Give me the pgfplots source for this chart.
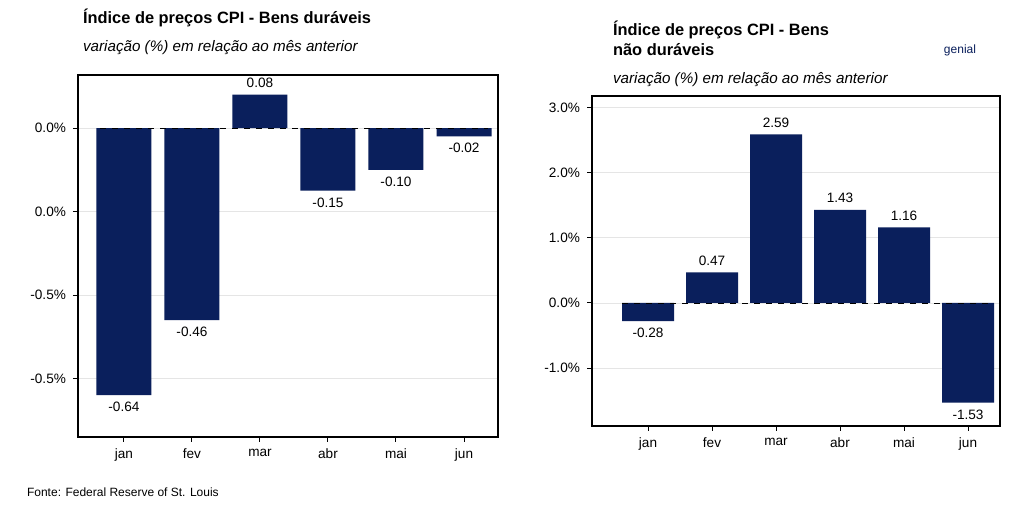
\documentclass[border=0pt]{standalone}
\usepackage{pgfplots}
\pgfplotsset{compat=1.18}
\usepackage{fontspec}
\setmainfont{Liberation Sans}
\definecolor{navy}{HTML}{0A1F5C}
\begin{document}
\begin{tikzpicture}[x=1pt,y=1pt]
\fill[white] (0pt,0pt) rectangle (512pt,256pt);
\pgfplotsset{
 mystyle/.style={scale only axis, axis line style={line width=0.8pt},
  ymajorgrids, grid style={gray!20},
  xtick={0,...,5}, xticklabels={jan,fev,mar,abr,mai,jun},
  tick style={black,line width=0.5pt}, tick align=outside, major tick length=2.5pt,
  xtick pos=bottom, ytick pos=left,
  tick label style={font=\fontsize{6.8}{8}\selectfont},
  /pgf/number format/assume math mode=true,
  every node near coord/.style={font=\fontsize{6.8}{8}\selectfont, black},
  /pgf/number format/.cd, fixed, fixed zerofill, precision=2}}
\begin{axis}[mystyle, at={(39pt,37.5pt)}, anchor=south west, width=210pt, height=181pt,
  xmin=-0.676, xmax=5.5, ymin=-0.74, ymax=0.127,
  ytick={0,-0.2,-0.4,-0.6}, yticklabels={0.0\%,0.0\%,-0.5\%,-0.5\%}]
\addplot[ybar, bar width=27.5pt, fill=navy, draw=none, nodes near coords, nodes near coords align={vertical}] coordinates {(0,-0.64)(1,-0.46)(2,0.08)(3,-0.15)(4,-0.10)(5,-0.02)};
\addplot[dashed, black, thin] coordinates {(-0.35,0)(5.35,0)};
\end{axis}
\begin{axis}[mystyle, at={(296pt,43pt)}, anchor=south west, width=204pt, height=165pt,
  xmin=-0.875, xmax=5.5, ymin=-1.89, ymax=3.18,
  ytick={-1,0,1,2,3}, yticklabels={-1.0\%,0.0\%,1.0\%,2.0\%,3.0\%}]
\addplot[ybar, bar width=26pt, fill=navy, draw=none, nodes near coords, nodes near coords align={vertical}] coordinates {(0,-0.28)(1,0.47)(2,2.59)(3,1.43)(4,1.16)(5,-1.53)};
\addplot[dashed, black, thin] coordinates {(-0.4,0)(5.4,0)};
\end{axis}
\node[anchor=west,font=\bfseries\fontsize{8.2}{9}\selectfont] at (38pt,247pt) {Índice de preços CPI - Bens duráveis};
\node[anchor=west,font=\itshape\fontsize{7.6}{9}\selectfont] at (38pt,232pt) {variação (\%) em relação ao mês anterior};
\node[anchor=west,font=\bfseries\fontsize{8.2}{9}\selectfont] at (303pt,241pt) {Índice de preços CPI - Bens};
\node[anchor=west,font=\bfseries\fontsize{8.2}{9}\selectfont] at (303pt,231pt) {não duráveis};
\node[anchor=west,font=\itshape\fontsize{7.6}{9}\selectfont] at (303pt,216pt) {variação (\%) em relação ao mês anterior};
\node[font=\fontsize{6}{7}\selectfont,text=navy] at (480pt,231pt) {genial};
\node[anchor=west,font=\fontsize{6}{7}\selectfont] at (10pt,10pt) {Fonte: Federal Reserve of St. Louis};
\end{tikzpicture}
\end{document}
